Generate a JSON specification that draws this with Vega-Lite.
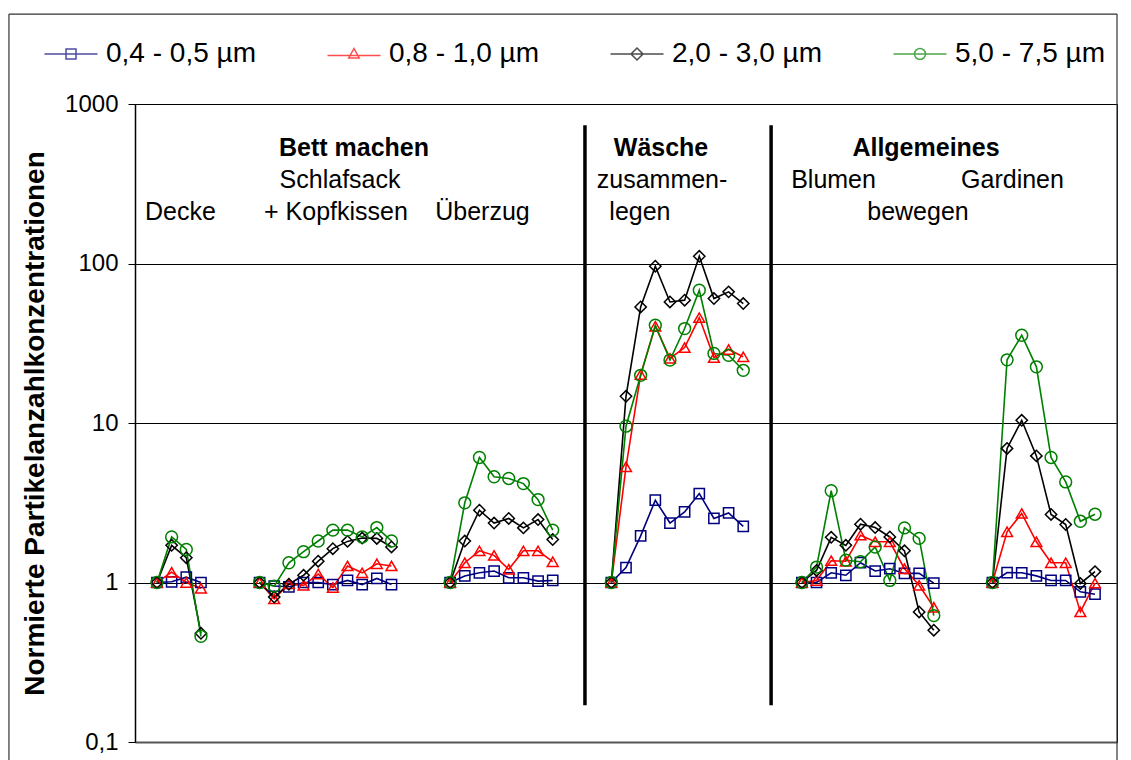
{
  "$schema": "https://vega.github.io/schema/vega-lite/v6.json",
  "width": 982,
  "height": 638,
  "autosize": {"type": "none"},
  "padding": {"left": 135, "top": 104, "right": 14, "bottom": 18},
  "background": "white",
  "config": {"view": {"stroke": "#000000", "strokeWidth": 1}, "font": "Liberation Sans"},
  "datasets": {
    "pts": [
      {"s":"0,4 - 0,5 µm","g":1,"i":0,"v":1},{"s":"0,4 - 0,5 µm","g":1,"i":1,"v":1.01},{"s":"0,4 - 0,5 µm","g":1,"i":2,"v":1.08},{"s":"0,4 - 0,5 µm","g":1,"i":3,"v":1.0},
      {"s":"0,4 - 0,5 µm","g":2,"i":7,"v":1},{"s":"0,4 - 0,5 µm","g":2,"i":8,"v":0.95},{"s":"0,4 - 0,5 µm","g":2,"i":9,"v":0.94},{"s":"0,4 - 0,5 µm","g":2,"i":10,"v":1.0},{"s":"0,4 - 0,5 µm","g":2,"i":11,"v":1.0},{"s":"0,4 - 0,5 µm","g":2,"i":12,"v":0.97},{"s":"0,4 - 0,5 µm","g":2,"i":13,"v":1.03},{"s":"0,4 - 0,5 µm","g":2,"i":14,"v":0.97},{"s":"0,4 - 0,5 µm","g":2,"i":15,"v":1.06},{"s":"0,4 - 0,5 µm","g":2,"i":16,"v":0.97},
      {"s":"0,4 - 0,5 µm","g":3,"i":20,"v":1},{"s":"0,4 - 0,5 µm","g":3,"i":21,"v":1.10},{"s":"0,4 - 0,5 µm","g":3,"i":22,"v":1.15},{"s":"0,4 - 0,5 µm","g":3,"i":23,"v":1.18},{"s":"0,4 - 0,5 µm","g":3,"i":24,"v":1.07},{"s":"0,4 - 0,5 µm","g":3,"i":25,"v":1.07},{"s":"0,4 - 0,5 µm","g":3,"i":26,"v":1.02},{"s":"0,4 - 0,5 µm","g":3,"i":27,"v":1.03},
      {"s":"0,4 - 0,5 µm","g":4,"i":31,"v":1},{"s":"0,4 - 0,5 µm","g":4,"i":32,"v":1.24},{"s":"0,4 - 0,5 µm","g":4,"i":33,"v":1.96},{"s":"0,4 - 0,5 µm","g":4,"i":34,"v":3.28},{"s":"0,4 - 0,5 µm","g":4,"i":35,"v":2.36},{"s":"0,4 - 0,5 µm","g":4,"i":36,"v":2.77},{"s":"0,4 - 0,5 µm","g":4,"i":37,"v":3.61},{"s":"0,4 - 0,5 µm","g":4,"i":38,"v":2.52},{"s":"0,4 - 0,5 µm","g":4,"i":39,"v":2.73},{"s":"0,4 - 0,5 µm","g":4,"i":40,"v":2.25},
      {"s":"0,4 - 0,5 µm","g":5,"i":44,"v":1},{"s":"0,4 - 0,5 µm","g":5,"i":45,"v":1.0},{"s":"0,4 - 0,5 µm","g":5,"i":46,"v":1.15},{"s":"0,4 - 0,5 µm","g":5,"i":47,"v":1.11},{"s":"0,4 - 0,5 µm","g":5,"i":48,"v":1.33},{"s":"0,4 - 0,5 µm","g":5,"i":49,"v":1.18},{"s":"0,4 - 0,5 µm","g":5,"i":50,"v":1.22},{"s":"0,4 - 0,5 µm","g":5,"i":51,"v":1.14},{"s":"0,4 - 0,5 µm","g":5,"i":52,"v":1.14},{"s":"0,4 - 0,5 µm","g":5,"i":53,"v":0.99},
      {"s":"0,4 - 0,5 µm","g":6,"i":57,"v":1},{"s":"0,4 - 0,5 µm","g":6,"i":58,"v":1.155},{"s":"0,4 - 0,5 µm","g":6,"i":59,"v":1.15},{"s":"0,4 - 0,5 µm","g":6,"i":60,"v":1.10},{"s":"0,4 - 0,5 µm","g":6,"i":61,"v":1.03},{"s":"0,4 - 0,5 µm","g":6,"i":62,"v":1.03},{"s":"0,4 - 0,5 µm","g":6,"i":63,"v":0.874},{"s":"0,4 - 0,5 µm","g":6,"i":64,"v":0.845},

      {"s":"0,8 - 1,0 µm","g":1,"i":0,"v":1},{"s":"0,8 - 1,0 µm","g":1,"i":1,"v":1.16},{"s":"0,8 - 1,0 µm","g":1,"i":2,"v":1.0},{"s":"0,8 - 1,0 µm","g":1,"i":3,"v":0.92},
      {"s":"0,8 - 1,0 µm","g":2,"i":7,"v":1},{"s":"0,8 - 1,0 µm","g":2,"i":8,"v":0.79},{"s":"0,8 - 1,0 µm","g":2,"i":9,"v":0.98},{"s":"0,8 - 1,0 µm","g":2,"i":10,"v":0.96},{"s":"0,8 - 1,0 µm","g":2,"i":11,"v":1.13},{"s":"0,8 - 1,0 µm","g":2,"i":12,"v":0.93},{"s":"0,8 - 1,0 µm","g":2,"i":13,"v":1.27},{"s":"0,8 - 1,0 µm","g":2,"i":14,"v":1.15},{"s":"0,8 - 1,0 µm","g":2,"i":15,"v":1.31},{"s":"0,8 - 1,0 µm","g":2,"i":16,"v":1.27},
      {"s":"0,8 - 1,0 µm","g":3,"i":20,"v":1},{"s":"0,8 - 1,0 µm","g":3,"i":21,"v":1.33},{"s":"0,8 - 1,0 µm","g":3,"i":22,"v":1.58},{"s":"0,8 - 1,0 µm","g":3,"i":23,"v":1.48},{"s":"0,8 - 1,0 µm","g":3,"i":24,"v":1.21},{"s":"0,8 - 1,0 µm","g":3,"i":25,"v":1.58},{"s":"0,8 - 1,0 µm","g":3,"i":26,"v":1.58},{"s":"0,8 - 1,0 µm","g":3,"i":27,"v":1.35},
      {"s":"0,8 - 1,0 µm","g":4,"i":31,"v":1},{"s":"0,8 - 1,0 µm","g":4,"i":32,"v":5.31},{"s":"0,8 - 1,0 µm","g":4,"i":33,"v":20.1},{"s":"0,8 - 1,0 µm","g":4,"i":34,"v":40.4},{"s":"0,8 - 1,0 µm","g":4,"i":35,"v":25.4},{"s":"0,8 - 1,0 µm","g":4,"i":36,"v":29.7},{"s":"0,8 - 1,0 µm","g":4,"i":37,"v":45.8},{"s":"0,8 - 1,0 µm","g":4,"i":38,"v":25.7},{"s":"0,8 - 1,0 µm","g":4,"i":39,"v":28.9},{"s":"0,8 - 1,0 µm","g":4,"i":40,"v":26.0},
      {"s":"0,8 - 1,0 µm","g":5,"i":44,"v":1},{"s":"0,8 - 1,0 µm","g":5,"i":45,"v":1.03},{"s":"0,8 - 1,0 µm","g":5,"i":46,"v":1.37},{"s":"0,8 - 1,0 µm","g":5,"i":47,"v":1.36},{"s":"0,8 - 1,0 µm","g":5,"i":48,"v":1.98},{"s":"0,8 - 1,0 µm","g":5,"i":49,"v":1.80},{"s":"0,8 - 1,0 µm","g":5,"i":50,"v":1.80},{"s":"0,8 - 1,0 µm","g":5,"i":51,"v":1.22},{"s":"0,8 - 1,0 µm","g":5,"i":52,"v":0.96},{"s":"0,8 - 1,0 µm","g":5,"i":53,"v":0.70},
      {"s":"0,8 - 1,0 µm","g":6,"i":57,"v":1},{"s":"0,8 - 1,0 µm","g":6,"i":58,"v":2.08},{"s":"0,8 - 1,0 µm","g":6,"i":59,"v":2.71},{"s":"0,8 - 1,0 µm","g":6,"i":60,"v":1.80},{"s":"0,8 - 1,0 µm","g":6,"i":61,"v":1.33},{"s":"0,8 - 1,0 µm","g":6,"i":62,"v":1.33},{"s":"0,8 - 1,0 µm","g":6,"i":63,"v":0.654},{"s":"0,8 - 1,0 µm","g":6,"i":64,"v":0.99},

      {"s":"2,0 - 3,0 µm","g":1,"i":0,"v":1},{"s":"2,0 - 3,0 µm","g":1,"i":1,"v":1.71},{"s":"2,0 - 3,0 µm","g":1,"i":2,"v":1.43},{"s":"2,0 - 3,0 µm","g":1,"i":3,"v":0.48},
      {"s":"2,0 - 3,0 µm","g":2,"i":7,"v":1},{"s":"2,0 - 3,0 µm","g":2,"i":8,"v":0.81},{"s":"2,0 - 3,0 µm","g":2,"i":9,"v":0.975},{"s":"2,0 - 3,0 µm","g":2,"i":10,"v":1.11},{"s":"2,0 - 3,0 µm","g":2,"i":11,"v":1.36},{"s":"2,0 - 3,0 µm","g":2,"i":12,"v":1.63},{"s":"2,0 - 3,0 µm","g":2,"i":13,"v":1.81},{"s":"2,0 - 3,0 µm","g":2,"i":14,"v":1.90},{"s":"2,0 - 3,0 µm","g":2,"i":15,"v":1.89},{"s":"2,0 - 3,0 µm","g":2,"i":16,"v":1.67},
      {"s":"2,0 - 3,0 µm","g":3,"i":20,"v":1},{"s":"2,0 - 3,0 µm","g":3,"i":21,"v":1.82},{"s":"2,0 - 3,0 µm","g":3,"i":22,"v":2.84},{"s":"2,0 - 3,0 µm","g":3,"i":23,"v":2.36},{"s":"2,0 - 3,0 µm","g":3,"i":24,"v":2.52},{"s":"2,0 - 3,0 µm","g":3,"i":25,"v":2.20},{"s":"2,0 - 3,0 µm","g":3,"i":26,"v":2.48},{"s":"2,0 - 3,0 µm","g":3,"i":27,"v":1.86},
      {"s":"2,0 - 3,0 µm","g":4,"i":31,"v":1},{"s":"2,0 - 3,0 µm","g":4,"i":32,"v":14.7},{"s":"2,0 - 3,0 µm","g":4,"i":33,"v":53.4},{"s":"2,0 - 3,0 µm","g":4,"i":34,"v":96.2},{"s":"2,0 - 3,0 µm","g":4,"i":35,"v":57.4},{"s":"2,0 - 3,0 µm","g":4,"i":36,"v":58.9},{"s":"2,0 - 3,0 µm","g":4,"i":37,"v":111},{"s":"2,0 - 3,0 µm","g":4,"i":38,"v":60.3},{"s":"2,0 - 3,0 µm","g":4,"i":39,"v":66.4},{"s":"2,0 - 3,0 µm","g":4,"i":40,"v":56.1},
      {"s":"2,0 - 3,0 µm","g":5,"i":44,"v":1},{"s":"2,0 - 3,0 µm","g":5,"i":45,"v":1.19},{"s":"2,0 - 3,0 µm","g":5,"i":46,"v":1.92},{"s":"2,0 - 3,0 µm","g":5,"i":47,"v":1.71},{"s":"2,0 - 3,0 µm","g":5,"i":48,"v":2.32},{"s":"2,0 - 3,0 µm","g":5,"i":49,"v":2.21},{"s":"2,0 - 3,0 µm","g":5,"i":50,"v":1.93},{"s":"2,0 - 3,0 µm","g":5,"i":51,"v":1.58},{"s":"2,0 - 3,0 µm","g":5,"i":52,"v":0.654},{"s":"2,0 - 3,0 µm","g":5,"i":53,"v":0.502},
      {"s":"2,0 - 3,0 µm","g":6,"i":57,"v":1},{"s":"2,0 - 3,0 µm","g":6,"i":58,"v":6.93},{"s":"2,0 - 3,0 µm","g":6,"i":59,"v":10.4},{"s":"2,0 - 3,0 µm","g":6,"i":60,"v":6.22},{"s":"2,0 - 3,0 µm","g":6,"i":61,"v":2.67},{"s":"2,0 - 3,0 µm","g":6,"i":62,"v":2.31},{"s":"2,0 - 3,0 µm","g":6,"i":63,"v":0.986},{"s":"2,0 - 3,0 µm","g":6,"i":64,"v":1.17},

      {"s":"5,0 - 7,5 µm","g":1,"i":0,"v":1},{"s":"5,0 - 7,5 µm","g":1,"i":1,"v":1.93},{"s":"5,0 - 7,5 µm","g":1,"i":2,"v":1.61},{"s":"5,0 - 7,5 µm","g":1,"i":3,"v":0.46},
      {"s":"5,0 - 7,5 µm","g":2,"i":7,"v":1},{"s":"5,0 - 7,5 µm","g":2,"i":8,"v":0.95},{"s":"5,0 - 7,5 µm","g":2,"i":9,"v":1.33},{"s":"5,0 - 7,5 µm","g":2,"i":10,"v":1.56},{"s":"5,0 - 7,5 µm","g":2,"i":11,"v":1.82},{"s":"5,0 - 7,5 µm","g":2,"i":12,"v":2.13},{"s":"5,0 - 7,5 µm","g":2,"i":13,"v":2.13},{"s":"5,0 - 7,5 µm","g":2,"i":14,"v":1.93},{"s":"5,0 - 7,5 µm","g":2,"i":15,"v":2.21},{"s":"5,0 - 7,5 µm","g":2,"i":16,"v":1.82},
      {"s":"5,0 - 7,5 µm","g":3,"i":20,"v":1},{"s":"5,0 - 7,5 µm","g":3,"i":21,"v":3.16},{"s":"5,0 - 7,5 µm","g":3,"i":22,"v":6.08},{"s":"5,0 - 7,5 µm","g":3,"i":23,"v":4.60},{"s":"5,0 - 7,5 µm","g":3,"i":24,"v":4.49},{"s":"5,0 - 7,5 µm","g":3,"i":25,"v":4.17},{"s":"5,0 - 7,5 µm","g":3,"i":26,"v":3.31},{"s":"5,0 - 7,5 µm","g":3,"i":27,"v":2.13},
      {"s":"5,0 - 7,5 µm","g":4,"i":31,"v":1},{"s":"5,0 - 7,5 µm","g":4,"i":32,"v":9.55},{"s":"5,0 - 7,5 µm","g":4,"i":33,"v":19.9},{"s":"5,0 - 7,5 µm","g":4,"i":34,"v":41.0},{"s":"5,0 - 7,5 µm","g":4,"i":35,"v":24.8},{"s":"5,0 - 7,5 µm","g":4,"i":36,"v":39.1},{"s":"5,0 - 7,5 µm","g":4,"i":37,"v":68.0},{"s":"5,0 - 7,5 µm","g":4,"i":38,"v":27.3},{"s":"5,0 - 7,5 µm","g":4,"i":39,"v":26.6},{"s":"5,0 - 7,5 µm","g":4,"i":40,"v":21.4},
      {"s":"5,0 - 7,5 µm","g":5,"i":44,"v":1},{"s":"5,0 - 7,5 µm","g":5,"i":45,"v":1.25},{"s":"5,0 - 7,5 µm","g":5,"i":46,"v":3.76},{"s":"5,0 - 7,5 µm","g":5,"i":47,"v":1.38},{"s":"5,0 - 7,5 µm","g":5,"i":48,"v":1.35},{"s":"5,0 - 7,5 µm","g":5,"i":49,"v":1.67},{"s":"5,0 - 7,5 µm","g":5,"i":50,"v":1.03},{"s":"5,0 - 7,5 µm","g":5,"i":51,"v":2.20},{"s":"5,0 - 7,5 µm","g":5,"i":52,"v":1.89},{"s":"5,0 - 7,5 µm","g":5,"i":53,"v":0.62},
      {"s":"5,0 - 7,5 µm","g":6,"i":57,"v":1},{"s":"5,0 - 7,5 µm","g":6,"i":58,"v":24.9},{"s":"5,0 - 7,5 µm","g":6,"i":59,"v":35.5},{"s":"5,0 - 7,5 µm","g":6,"i":60,"v":22.5},{"s":"5,0 - 7,5 µm","g":6,"i":61,"v":6.08},{"s":"5,0 - 7,5 µm","g":6,"i":62,"v":4.27},{"s":"5,0 - 7,5 µm","g":6,"i":63,"v":2.42},{"s":"5,0 - 7,5 µm","g":6,"i":64,"v":2.68}
    ],
    "labels_bold": [
      {"t":"Bett machen","i":13.44,"v":471},
      {"t":"Wäsche","i":34.39,"v":471},
      {"t":"Allgemeines","i":52.47,"v":471}
    ],
    "labels": [
      {"t":"Schlafsack","i":12.49,"v":297},
      {"t":"+ Kopfkissen","i":12.21,"v":187},
      {"t":"Decke","i":1.6,"v":187},
      {"t":"Überzug","i":22.21,"v":187},
      {"t":"zusammen-","i":34.46,"v":297},
      {"t":"legen","i":32.95,"v":187},
      {"t":"Blumen","i":46.16,"v":297},
      {"t":"Gardinen","i":58.37,"v":297},
      {"t":"bewegen","i":51.92,"v":187}
    ],
    "separators": [
      {"i":29.2,"v":0.17,"v2":736},
      {"i":41.9,"v":0.17,"v2":736}
    ],
    "frame_v": [
      {"i":-10.1,"v":0.077,"v2":3665},
      {"i":65.5,"v":0.077,"v2":3665}
    ],
    "frame_h": [
      {"i":-10.1,"i2":65.5,"v":3665}
    ],
    "legendrows": [
      {"s":"0,4 - 0,5 µm","i":0,"v":0.01},
      {"s":"0,8 - 1,0 µm","i":0,"v":0.01},
      {"s":"2,0 - 3,0 µm","i":0,"v":0.01},
      {"s":"5,0 - 7,5 µm","i":0,"v":0.01}
    ]
  },
  "encoding": {
    "x": {"field": "i", "type": "quantitative", "scale": {"domain": [-1.5, 65.5], "nice": false, "zero": false},
          "axis": {"labels": false, "ticks": false, "grid": false, "domain": true, "domainColor": "#555555", "domainWidth": 2, "title": null}},
    "y": {"field": "v", "type": "quantitative", "scale": {"type": "log", "domain": [0.1, 1000], "nice": false},
          "axis": {"values": [0.1, 1, 10, 100, 1000], "format": "~g", "labelExpr": "replace(datum.label, '.', ',')",
                   "grid": true, "gridColor": "#000000", "gridWidth": 1, "domain": true, "domainColor": "#000000", "domainWidth": 1.5,
                   "ticks": true, "tickSize": 7, "tickColor": "#000000", "tickWidth": 1,
                   "labelFontSize": 24, "labelColor": "#000000", "labelPadding": 10, "labelFont": "Liberation Sans",
                   "title": "Normierte Partikelanzahlkonzentrationen", "titleFontSize": 28, "titleFontWeight": "bold",
                   "titleFont": "Liberation Sans", "titleColor": "#000000", "titleX": -100, "titleY": 319,
                   "titleAngle": 270, "titleAlign": "center", "titleBaseline": "middle"}}
  },
  "resolve": {"scale": {"color": "independent", "shape": "independent", "size": "independent"}},
  "layer": [
    {
      "data": {"name": "frame_v"},
      "mark": {"type": "rule", "color": "#333333", "strokeWidth": 1.2, "clip": false},
      "encoding": {"y2": {"field": "v2"}}
    },
    {
      "data": {"name": "frame_h"},
      "mark": {"type": "rule", "color": "#333333", "strokeWidth": 1.2, "clip": false},
      "encoding": {"x2": {"field": "i2"}}
    },
    {
      "data": {"name": "separators"},
      "mark": {"type": "rule", "color": "#000000", "strokeWidth": 3.5},
      "encoding": {"y2": {"field": "v2"}}
    },
    {
      "data": {"name": "pts"},
      "mark": {"type": "line", "strokeWidth": 1.6},
      "encoding": {
        "color": {"field": "s", "type": "nominal", "scale": {"domain": ["0,4 - 0,5 µm","0,8 - 1,0 µm","2,0 - 3,0 µm","5,0 - 7,5 µm"], "range": ["#000080","#FF0000","#000000","#008000"]}, "legend": null},
        "detail": {"field": "g", "type": "nominal"},
        "order": {"field": "i", "type": "quantitative"}
      }
    },
    {
      "data": {"name": "pts"},
      "mark": {"type": "point", "filled": false, "strokeWidth": 1.5, "opacity": 1},
      "encoding": {
        "color": {"field": "s", "type": "nominal", "scale": {"domain": ["0,4 - 0,5 µm","0,8 - 1,0 µm","2,0 - 3,0 µm","5,0 - 7,5 µm"], "range": ["#000080","#FF0000","#000000","#008000"]}, "legend": null},
        "shape": {"field": "s", "type": "nominal", "scale": {"domain": ["0,4 - 0,5 µm","0,8 - 1,0 µm","2,0 - 3,0 µm","5,0 - 7,5 µm"], "range": ["square","triangle-up","diamond","circle"]}, "legend": null},
        "size": {"field": "s", "type": "nominal", "scale": {"domain": ["0,4 - 0,5 µm","0,8 - 1,0 µm","2,0 - 3,0 µm","5,0 - 7,5 µm"], "range": [105, 140, 185, 170]}, "legend": null}
      }
    },
    {
      "data": {"name": "labels_bold"},
      "mark": {"type": "text", "fontSize": 25, "fontWeight": "bold", "font": "Liberation Sans", "color": "#000000", "align": "center", "baseline": "alphabetic"},
      "encoding": {"text": {"field": "t"}}
    },
    {
      "data": {"name": "labels"},
      "mark": {"type": "text", "fontSize": 25, "font": "Liberation Sans", "color": "#000000", "align": "center", "baseline": "alphabetic"},
      "encoding": {"text": {"field": "t"}}
    },
    {
      "data": {"name": "legendrows"},
      "mark": {"type": "point", "filled": false, "strokeWidth": 1.5, "clip": true},
      "encoding": {
        "color": {"field": "s", "type": "nominal", "scale": {"domain": ["0,4 - 0,5 µm","0,8 - 1,0 µm","2,0 - 3,0 µm","5,0 - 7,5 µm"], "range": ["#000080","#FF0000","#000000","#008000"]},
                  "legend": {"orient": "none", "legendX": -78, "legendY": -64, "direction": "horizontal", "title": null, "labelFontSize": 28, "labelFont": "Liberation Sans", "labelColor": "#000000", "symbolSize": 100, "symbolStrokeWidth": 1.5, "labelOffset": 21, "columnPadding": 68, "labelLimit": 400, "padding": 0}},
        "shape": {"field": "s", "type": "nominal", "scale": {"domain": ["0,4 - 0,5 µm","0,8 - 1,0 µm","2,0 - 3,0 µm","5,0 - 7,5 µm"],
                  "range": ["M-5.3,0H5.3M-1,-1H1V1H-1Z", "M-5.3,0.3H5.3M0,-1.1L1.05,0.8H-1.05Z", "M-5.3,0H5.3M0,-1.2L1.2,0L0,1.2L-1.2,0Z", "M-5.3,0H5.3M1.1,0A1.1,1.1 0 1,1 -1.1,0A1.1,1.1 0 1,1 1.1,0Z"]},
                  "legend": {"orient": "none", "legendX": -78, "legendY": -64, "direction": "horizontal", "title": null, "labelFontSize": 28, "labelFont": "Liberation Sans", "labelColor": "#000000", "symbolSize": 100, "symbolStrokeWidth": 1.5, "labelOffset": 21, "columnPadding": 68, "labelLimit": 400, "padding": 0}}
      }
    }
  ]
}
